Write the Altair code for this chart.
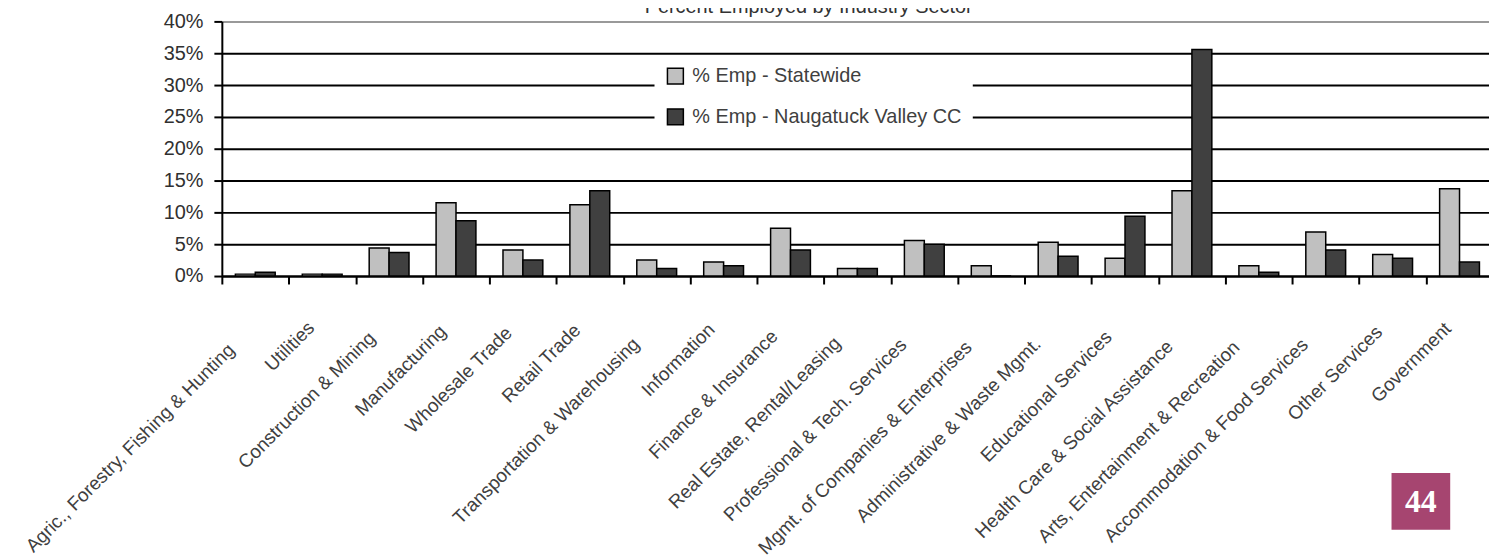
import altair as alt
import pandas as pd

categories = [
    "Agric., Forestry, Fishing & Hunting", "Utilities", "Construction & Mining",
    "Manufacturing", "Wholesale Trade", "Retail Trade", "Transportation & Warehousing",
    "Information", "Finance & Insurance", "Real Estate, Rental/Leasing",
    "Professional & Tech. Services", "Mgmt. of Companies & Enterprises",
    "Administrative & Waste Mgmt.", "Educational Services",
    "Health Care & Social Assistance", "Arts, Entertainment & Recreation",
    "Accommodation & Food Services", "Other Services", "Government",
]
statewide = [0.3, 0.3, 4.4, 11.5, 4.1, 11.2, 2.5, 2.2, 7.5, 1.2, 5.6, 1.6, 5.3, 2.8, 13.4, 1.6, 6.9, 3.4, 13.7]
nvcc = [0.6, 0.3, 3.7, 8.7, 2.5, 13.4, 1.2, 1.6, 4.1, 1.2, 5.0, 0.0, 3.1, 9.4, 35.6, 0.6, 4.1, 2.8, 2.2]
series_names = ["% Emp - Statewide", "% Emp - Naugatuck Valley CC"]
series_colors = ["#C0C0C0", "#404040"]
y_ticks = [0, 5, 10, 15, 20, 25, 30, 35, 40]
title_text = "Percent Employed by Industry Sector"
page_number = "44"

rows = []
for c, s, n in zip(categories, statewide, nvcc):
    rows.append({"sector": c, "series": series_names[0], "pct": s})
    rows.append({"sector": c, "series": series_names[1], "pct": n})
df = pd.DataFrame(rows)

W = 1278
H = 256
FONT = "Liberation Sans"

bars = alt.Chart(df).mark_bar(stroke="black", strokeWidth=1.5).encode(
    x=alt.X(
        "sector:N", sort=categories, title=None,
        scale=alt.Scale(paddingInner=0, paddingOuter=0),
        axis=alt.Axis(
            labelAngle=-45, labelAlign="right", labelBaseline="middle",
            labelOffset=alt.ExprRef("-7 - 0.5*length(datum.label)"),
            labelPadding=alt.ExprRef("33 + 0.85*length(datum.label)"),
            tickBand="extent",
            tickSize=8, tickWidth=2, tickColor="black",
            domainColor="black", domainWidth=2,
            labelFont=FONT, labelFontSize=19, labelColor="#404040",
            grid=False, labelOverlap=False, labelLimit=500,
        ),
    ),
    xOffset=alt.XOffset("series:N", sort=series_names,
                        scale=alt.Scale(paddingInner=0, paddingOuter=0.68)),
    y=alt.Y(
        "pct:Q", title=None,
        scale=alt.Scale(domain=[0, 40], nice=False),
        axis=alt.Axis(
            values=y_ticks, labelExpr="datum.value + '%'",
            tickSize=8, tickWidth=2, tickColor="black",
            domainColor="black", domainWidth=2,
            grid=True, gridWidth=2,
            gridColor={"condition": {"test": "datum.value >= 39.9", "value": "#999999"}, "value": "black"},
            labelFont=FONT, labelFontSize=20,
            labelColor="#303030", labelPadding=11,
        ),
    ),
    color=alt.Color(
        "series:N", sort=series_names,
        scale=alt.Scale(domain=series_names, range=series_colors),
        legend=alt.Legend(
            title=None, orient="none", legendX=435, legendY=34,
            fillColor="white", padding=11, symbolType="square", symbolSize=256,
            symbolStrokeColor="black", symbolStrokeWidth=1.5,
            labelFont=FONT, labelFontSize=20, labelColor="#404040",
            rowPadding=19, labelOffset=7, labelLimit=500, direction="vertical",
        ),
    ),
)

title_layer = alt.Chart(alt.Data(values=[{"t": title_text}])).mark_text(
    font=FONT, fontSize=20, color="#333333", baseline="alphabetic", align="center"
).encode(text="t:N", x=alt.value(590), y=alt.value(-8))

box_layer = alt.Chart(alt.Data(values=[{"t": page_number}])).mark_rect(
    color="#A64570"
).encode(x=alt.value(1176), x2=alt.value(1235), y=alt.value(454), y2=alt.value(511))

num_layer = alt.Chart(alt.Data(values=[{"t": page_number}])).mark_text(
    font="Liberation Serif", fontSize=32, fontWeight="bold", color="white",
    baseline="middle", align="center"
).encode(text="t:N", x=alt.value(1205.5), y=alt.value(483))

chart = alt.layer(bars, title_layer, box_layer, num_layer).properties(
    width=W, height=H,
    autosize=alt.AutoSizeParams(type="none"),
    padding={"left": 215, "top": 12, "right": -4, "bottom": 280},
).configure_view(stroke=None).configure(background="white")

chart.save("out.html", embed_options={"renderer": "svg", "actions": False})
